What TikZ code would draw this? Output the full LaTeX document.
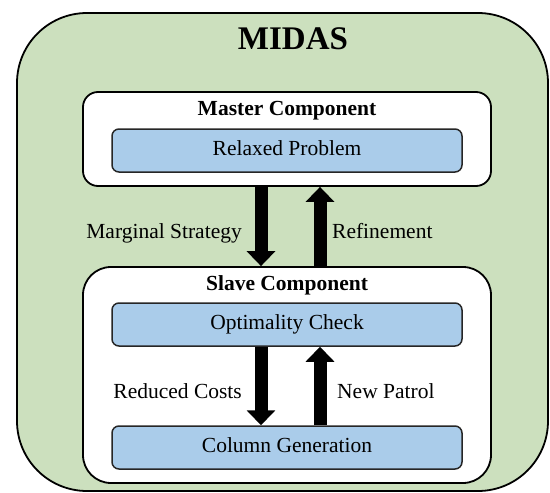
\documentclass[tikz,border=0pt]{standalone}
\usepackage{fontspec}
\setmainfont{Liberation Serif}
\usetikzlibrary{arrows.meta}
\definecolor{midasgreen}{RGB}{204,224,190}
\definecolor{boxblue}{RGB}{170,204,234}
\begin{document}
\begin{tikzpicture}[x=1pt,y=-1pt,
  outerbox/.style={draw=black, line width=1.8pt, fill=midasgreen, rounded corners=70pt, minimum width=531pt, minimum height=478pt, inner sep=0pt},
  compbox/.style={draw=black, line width=1.8pt, fill=white, minimum width=408pt, inner sep=0pt},
  bluebox/.style={draw=black!85, line width=1.5pt, fill=boxblue, rounded corners=7pt, minimum width=350pt, minimum height=43pt, inner sep=0pt, text height=14.5pt, text depth=4.5pt, font=\fontsize{21.5}{24}\selectfont},
  titletext/.style={font=\bfseries\fontsize{21.5}{24}\selectfont, inner sep=0pt, anchor=base},
  lbl/.style={font=\fontsize{21.5}{24}\selectfont, inner sep=0pt},
  fatarrow/.style={line width=13pt, -{Triangle[width=28pt,length=15pt]}}
]
\useasboundingbox (0,0) rectangle (550,493);
\node[outerbox] (midas) at (282.5,252) {};
\node[font=\bfseries\fontsize{33}{36}\selectfont, anchor=base, inner sep=0pt] (midastitle) at (293,49) {MIDAS};
\node[compbox, rounded corners=15pt, minimum height=94pt] (master) at (287,139) {};
\node[titletext] (mastertitle) at (287,115) {Master Component};
\node[bluebox] (relaxed) at (287,150.5) {Relaxed Problem};
\node[compbox, rounded corners=28pt, minimum height=216pt] (slave) at (287,375) {};
\node[titletext] (slavetitle) at (287,290) {Slave Component};
\node[bluebox] (optcheck) at (287,324.5) {Optimality Check};
\node[bluebox] (colgen) at (287,447.5) {Column Generation};
\coordinate (dx) at (261,0);
\coordinate (ux) at (320,0);
\draw[fatarrow] (master.south -| dx) -- (slave.north -| dx);
\draw[fatarrow] (slave.north -| ux) -- (master.south -| ux);
\draw[fatarrow] (optcheck.south -| dx) -- (colgen.north -| dx);
\draw[fatarrow] (colgen.north -| ux) -- (optcheck.south -| ux);
\node[lbl, anchor=base east] (marg) at (242,238) {Marginal Strategy};
\node[lbl, anchor=base west] (refine) at (332,238) {Refinement};
\node[lbl, anchor=base east] (reduced) at (242,398) {Reduced Costs};
\node[lbl, anchor=base west] (newpatrol) at (337,398) {New Patrol};
\end{tikzpicture}
\end{document}
